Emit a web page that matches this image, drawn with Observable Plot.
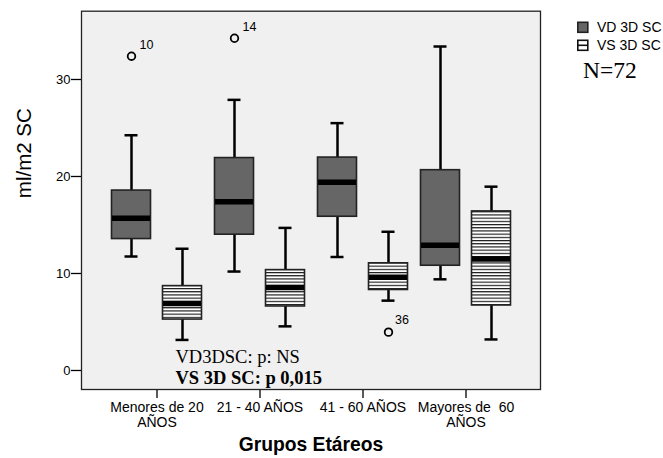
<!DOCTYPE html>
<html><head><meta charset="utf-8">
<script src="https://cdn.jsdelivr.net/npm/d3@7"></script>
<script src="https://cdn.jsdelivr.net/npm/@observablehq/plot@0.6"></script>
<style>
body{margin:0;background:#fff;}
#wrap{position:relative;width:663px;height:458px;overflow:hidden;}
#wrap svg{display:block;}
#legend{position:absolute;left:0;top:0;pointer-events:none;}
</style></head><body><div id="wrap"></div>
<script>
// ---- data ----
const groups = ["Menores de 20", "21 - 40", "41 - 60", "Mayores de 60"];
const tickLabels = ["Menores de 20\nAÑOS", "21 - 40 AÑOS", "41 - 60 AÑOS", "Mayores de  60\nAÑOS"];
const seriesNames = ["VD 3D SC", "VS 3D SC"];
const yTicks = [0, 10, 20, 30];

const vdLow  = [11.75, 10.2, 11.7, 9.4];
const vdQ1   = [13.55, 14.0, 15.85, 10.8];
const vdMed  = [15.7, 17.4, 19.4, 12.9];
const vdQ3   = [18.55, 21.9, 21.95, 20.65];
const vdHigh = [24.25, 27.9, 25.5, 33.4];

const vsLow  = [3.15, 4.55, 7.2, 3.2];
const vsQ1   = [5.25, 6.6, 8.3, 6.7];
const vsMed  = [6.9, 8.55, 9.6, 11.5];
const vsQ3   = [8.7, 10.35, 11.05, 16.4];
const vsHigh = [12.55, 14.7, 14.3, 18.95];

const outGroup  = ["Menores de 20", "21 - 40", "41 - 60"];
const outSeries = ["VD 3D SC", "VD 3D SC", "VS 3D SC"];
const outValue  = [32.4, 34.25, 3.95];
const outLabel  = ["10", "14", "36"];

const noteLines = ["VD3DSC: p: NS", "VS 3D SC: p 0,015"];
const nLabel = "N=72";

// ---- build tables ----
const vdRows = groups.map((g, i) => ({g, low: vdLow[i], q1: vdQ1[i], med: vdMed[i], q3: vdQ3[i], high: vdHigh[i]}));
const vsRows = groups.map((g, i) => ({g, low: vsLow[i], q1: vsQ1[i], med: vsMed[i], q3: vsQ3[i], high: vsHigh[i]}));
const outliers = outGroup.map((g, i) => ({g, s: outSeries[i], v: outValue[i], label: outLabel[i]}));

const defs = () => {
  const ns = "http://www.w3.org/2000/svg";
  const d = document.createElementNS(ns, "defs");
  d.innerHTML = `<pattern id="stripes" patternUnits="userSpaceOnUse" x="0" y="0" width="8" height="3.2">
    <rect width="8" height="3.2" fill="#ffffff"/>
    <rect y="0" width="8" height="1.1" fill="#111"/>
    <rect y="1.1" width="8" height="0.5" fill="#999"/>
  </pattern>`;
  return d;
};

function boxMarks(rows, off, fill) {
  return [
    Plot.ruleX(rows, {x: "g", y1: "low", y2: "high", dx: off, stroke: "#000", strokeWidth: 2.5}),
    Plot.tickY(rows, {x: "g", y: "low", dx: off, inset: 45, stroke: "#000", strokeWidth: 2.5}),
    Plot.tickY(rows, {x: "g", y: "high", dx: off, inset: 45, stroke: "#000", strokeWidth: 2.5}),
    Plot.barY(rows, {x: "g", y1: "q1", y2: "q3", dx: off, insetLeft: 32, insetRight: 32, fill, stroke: "#222", strokeWidth: 1.6}),
    Plot.tickY(rows, {x: "g", y: "med", dx: off, inset: 32.5, stroke: "#000", strokeWidth: 5.5})
  ];
}

const sans = "'Liberation Sans', Arial, sans-serif";
const serif = "'Liberation Serif', 'Times New Roman', serif";

const chart = Plot.plot({
  width: 663,
  height: 458,
  marginTop: 10.7,
  marginBottom: 69,
  marginLeft: 81,
  marginRight: 123,
  style: {fontFamily: sans, background: "transparent", color: "#000"},
  x: {type: "band", domain: groups, paddingInner: 0, paddingOuter: 0.228},
  y: {domain: [-1.96, 37.04]},
  marks: [
    defs,
    Plot.frame({fill: "#f0f0f0", stroke: null}),
    ...boxMarks(vdRows, -25.5, "#666666"),
    ...boxMarks(vsRows, 25.5, "url(#stripes)"),
    Plot.dot(outliers, {filter: d => d.s === seriesNames[0], x: "g", y: "v", dx: -25.5, r: 3.8, stroke: "#000", strokeWidth: 1.8, fill: "none"}),
    Plot.dot(outliers, {filter: d => d.s === seriesNames[1], x: "g", y: "v", dx: 25.5, r: 3.8, stroke: "#000", strokeWidth: 1.8, fill: "none"}),
    Plot.text(outliers, {filter: d => d.s === seriesNames[0], x: "g", y: "v", text: "label", dx: -17.5, dy: -11, textAnchor: "start", fontSize: 12.5, fill: "#000"}),
    Plot.text(outliers, {filter: d => d.s === seriesNames[1], x: "g", y: "v", text: "label", dx: 32, dy: -12, textAnchor: "start", fontSize: 12.5, fill: "#000"}),
    Plot.text([noteLines[0]], {frameAnchor: "bottom-left", dx: 94, dy: -32, textAnchor: "start", lineAnchor: "middle", fontFamily: serif, fontSize: 18.5, fill: "#000"}),
    Plot.text([noteLines[1]], {frameAnchor: "bottom-left", dx: 94, dy: -11, textAnchor: "start", lineAnchor: "middle", fontFamily: serif, fontSize: 18.5, fontWeight: "bold", fill: "#000"}),
    Plot.axisY({ticks: yTicks, tickSize: 10, tickPadding: 1, fontSize: 13, label: null, strokeWidth: 1.3}),
    Plot.axisX({tickSize: 9, tickPadding: 3, fontSize: 14, lineHeight: 1.05, label: null, strokeWidth: 1.3, tickFormat: d => tickLabels[groups.indexOf(d)]}),
    Plot.text(["ml/m2 SC"], {y: [22.4], frameAnchor: "left", dx: -57, rotate: -90, textAnchor: "middle", fontSize: 20.5, fill: "#000"}),
    Plot.text(["Grupos Etáreos"], {frameAnchor: "bottom", dy: 55, lineAnchor: "middle", fontSize: 19.3, fontWeight: "bold", fill: "#000"}),
    Plot.frame({stroke: "#222", strokeWidth: 1.3, fill: "none"})
  ]
});

const wrap = document.getElementById("wrap");
wrap.appendChild(chart);

// ---- legend overlay ----
const ns = "http://www.w3.org/2000/svg";
const leg = document.createElementNS(ns, "svg");
leg.setAttribute("id", "legend");
leg.setAttribute("width", 663);
leg.setAttribute("height", 458);
leg.innerHTML = `
  <rect x="577.8" y="22.3" width="10" height="10" fill="#666" stroke="#222" stroke-width="1.6"/>
  <text x="597" y="31.5" font-family="${sans}" font-size="14" fill="#000">${seriesNames[0]}</text>
  <rect x="577.8" y="40.3" width="10" height="10" fill="#fff" stroke="#111" stroke-width="1.6"/>
  <line x1="577.8" x2="587.8" y1="45.3" y2="45.3" stroke="#111" stroke-width="1.6"/>
  <text x="597" y="49.5" font-family="${sans}" font-size="14" fill="#000">${seriesNames[1]}</text>
  <text x="583" y="77.5" font-family="${serif}" font-size="23.5" fill="#000">${nLabel}</text>
`;
wrap.appendChild(leg);
</script>
</body></html>
